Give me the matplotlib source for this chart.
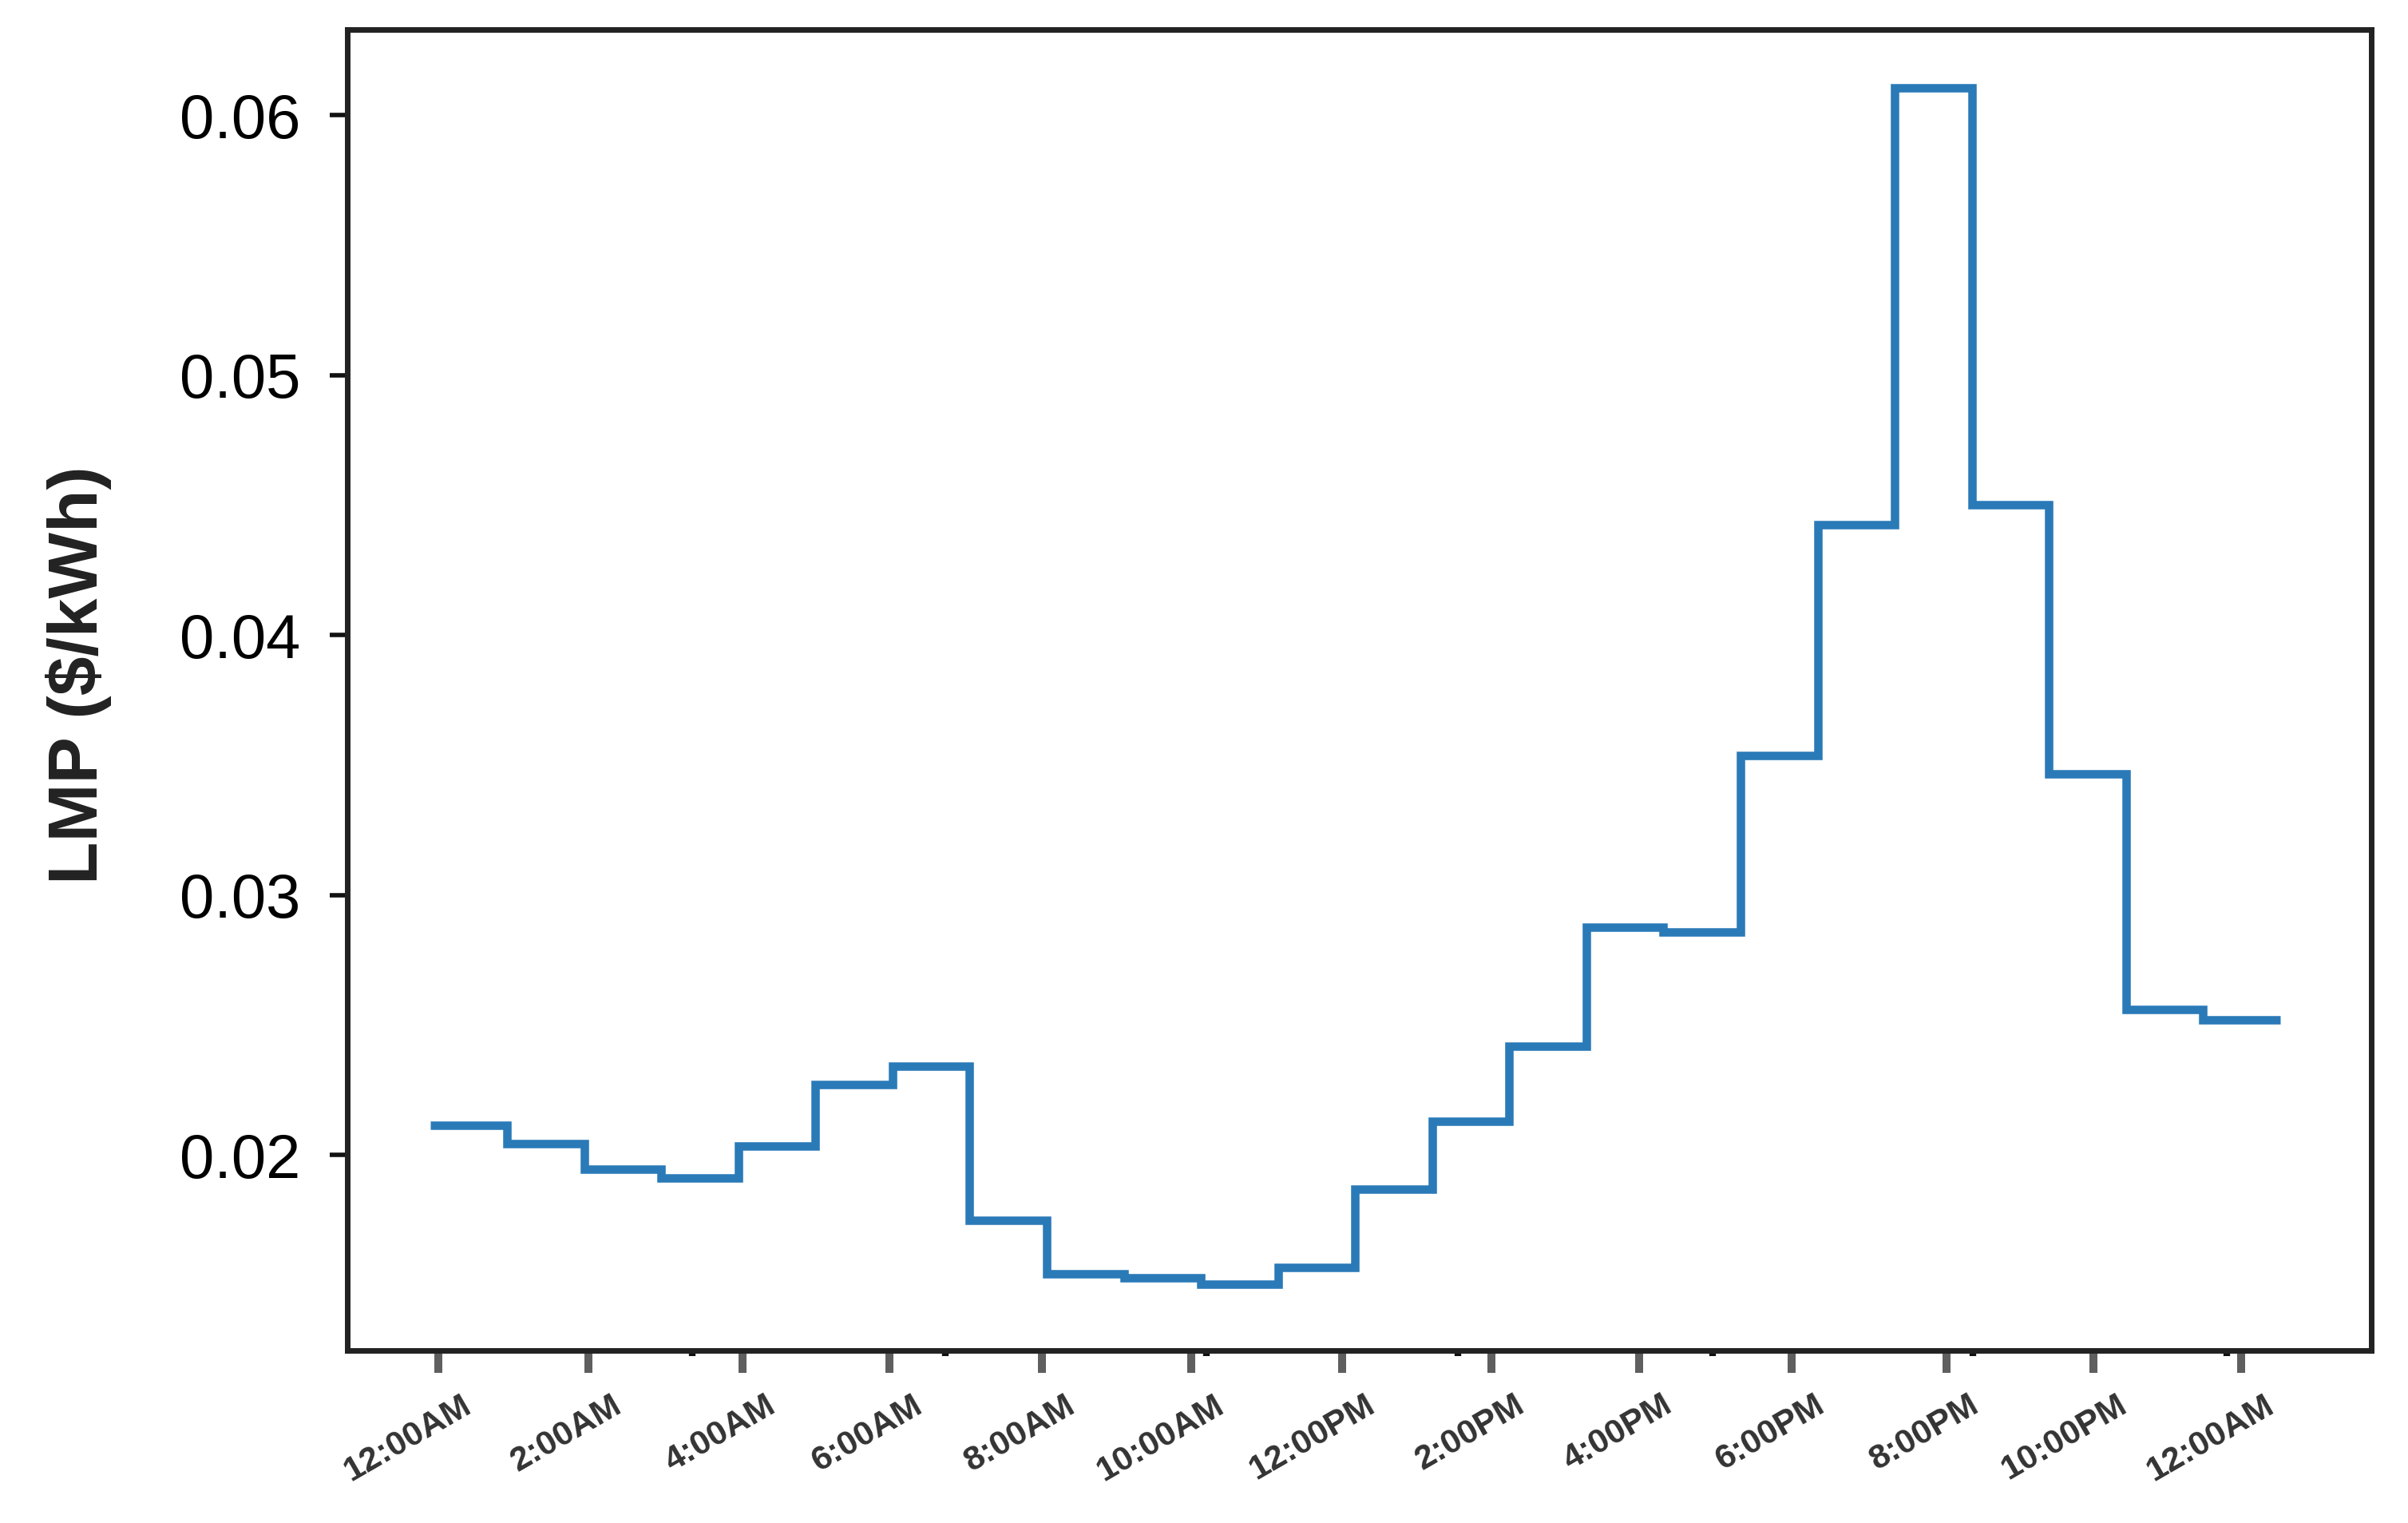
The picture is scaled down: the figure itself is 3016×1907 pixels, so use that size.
import matplotlib
matplotlib.use('Agg')
import matplotlib.pyplot as plt
import matplotlib.transforms as mtransforms
import numpy as np

# ── 数据：每小时 LMP ($/kWh) ──
hour_edges = np.arange(25)
lmp = [0.02115, 0.02045, 0.01945, 0.01912, 0.02036, 0.02272,
       0.02343, 0.01751, 0.01544, 0.01527, 0.01503, 0.01568,
       0.01870, 0.02130, 0.02420, 0.02876, 0.02858, 0.03538,
       0.04426, 0.06107, 0.04503, 0.03467, 0.02562, 0.02521]

tick_labels = ['12:00AM', '2:00AM', '4:00AM', '6:00AM', '8:00AM', '10:00AM',
               '12:00PM', '2:00PM', '4:00PM', '6:00PM', '8:00PM', '10:00PM',
               '12:00AM']
# tick positions (hours)
tick_pos = [0.11, 2.06, 4.05, 5.96, 7.94, 9.87, 11.83, 13.77, 15.68,
            17.66, 19.67, 21.58, 23.49]
minor_pos = [0.11, 3.40, 6.68, 10.07, 13.33, 16.64, 20.01, 23.31]
y_ticks = [0.02, 0.03, 0.04, 0.05, 0.06]

DPI = 200
fig = plt.figure(figsize=(3016 / DPI, 1907 / DPI), dpi=DPI)
ax = fig.add_axes([0.1442, 0.1133, 0.8405, 0.8673])

ax.stairs(lmp, hour_edges, baseline=None, color='#2a7ab8', lw=3.8)

ax.set_xlim(-1.073, 25.18)
ax.set_ylim(0.01249, 0.06330)

for s in ax.spines.values():
    s.set_color('#222222')
    s.set_linewidth(2.5)

# y axis
ax.set_yticks(y_ticks)
ax.set_yticklabels([f'{v:.2f}' for v in y_ticks])
ax.tick_params(axis='y', length=8, width=2, color='#111111', pad=13,
               labelsize=28, labelcolor='black')
for lab in ax.get_yticklabels():
    lab.set_family('Liberation Sans')

ax.set_ylabel('LMP ($/kWh)', fontsize=31.5, fontweight='bold',
              family='Liberation Sans', color='#222222')
ax.yaxis.set_label_coords(-0.1164, 0.5115)

# x axis
ax.set_xticks(tick_pos)
ax.set_xticklabels(tick_labels)
ax.set_xticks(minor_pos, minor=True)
ax.tick_params(axis='x', which='major', length=10, width=3.6, color='#5f5f5f',
               pad=6, labelsize=15.5, labelcolor='#333333')
ax.tick_params(axis='x', which='minor', length=2.5, width=3, color='#111111')

offset = mtransforms.ScaledTranslation(0.14, -0.02, fig.dpi_scale_trans)
for lab in ax.get_xticklabels():
    lab.set_rotation(30)
    lab.set_rotation_mode('anchor')
    lab.set_ha('right')
    lab.set_va('top')
    lab.set_fontweight('bold')
    lab.set_family('Liberation Sans')
    lab.set_transform(lab.get_transform() + offset)

fig.savefig('out.png', dpi=DPI, facecolor='white')
